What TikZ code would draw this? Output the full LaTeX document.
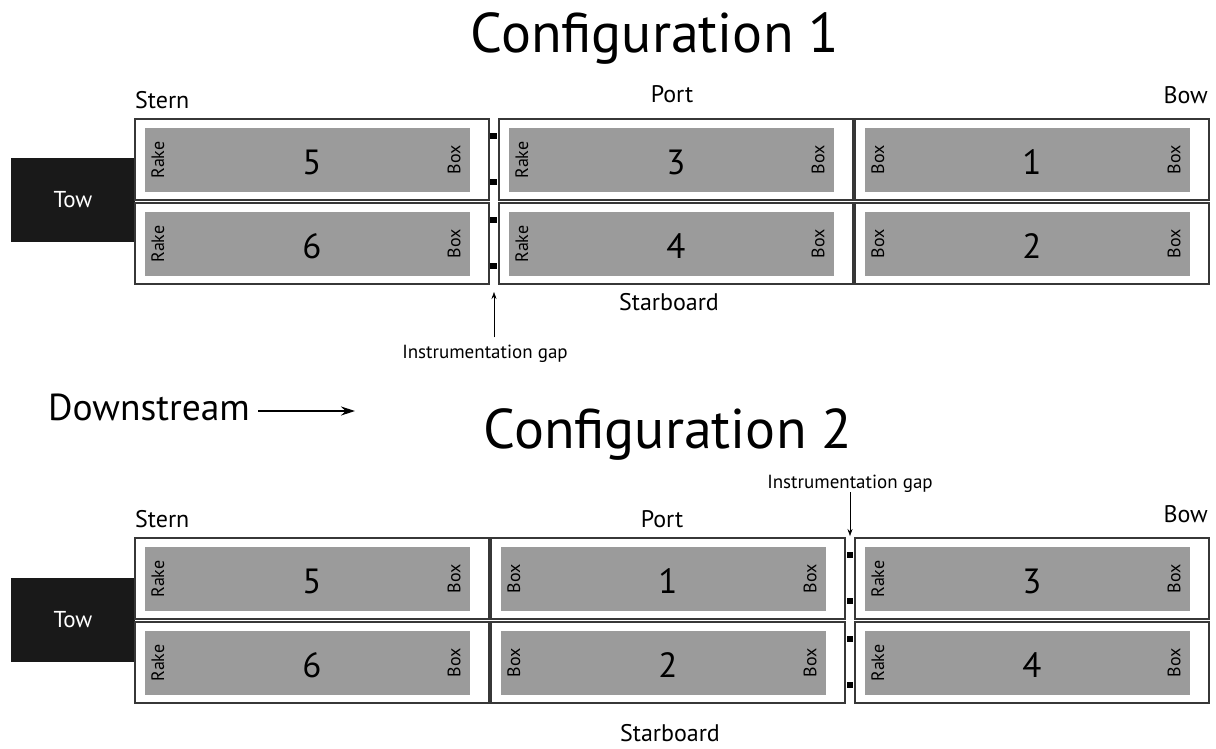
\documentclass[tikz,border=0pt]{standalone}
\usepackage{fontspec}
\setmainfont{PT Sans}
\usetikzlibrary{arrows.meta}
\definecolor{deckgray}{RGB}{155,155,155}
\definecolor{hullline}{RGB}{55,55,55}
\tikzset{
  barge/.style={draw=hullline, line width=1.2pt, fill=white,
    minimum width=354pt, minimum height=81pt, inner sep=0pt},
  deck/.style={fill=deckgray, minimum width=325pt, minimum height=64pt, inner sep=0pt},
  bargenum/.style={font=\fontsize{35}{37}\selectfont, inner sep=0pt},
  endlabel/.style={rotate=90, font=\fontsize{18}{19}\selectfont, inner sep=0pt},
  towboat/.style={fill=black!90, text=white, minimum width=124pt, minimum height=84pt,
    inner sep=0pt, font=\fontsize{23}{25}\selectfont},
  sensor/.style={fill=black, minimum size=6.5pt, inner sep=0pt},
  heading/.style={font=\fontsize{56}{58}\selectfont, inner sep=0pt},
  side/.style={font=\fontsize{24}{26}\selectfont, inner sep=0pt},
  note/.style={font=\fontsize{19}{21}\selectfont, inner sep=0pt},
}
\begin{document}
\begin{tikzpicture}[x=1pt, y=-1pt]
  \useasboundingbox (0,0) rectangle (1216,748);
  % tow boats
  \node[towboat] (tow1) at (73,200) {Tow};
  \node[towboat] (tow2) at (73,619.5) {Tow};
  % barges: name/x/y/number/left end/right end
  \foreach \nm/\cx/\cy/\num/\lend/\rend in {
      c1-5/312/159.5/5/Rake/Box, c1-6/312/243.5/6/Rake/Box,
      c1-3/676/159.5/3/Rake/Box, c1-4/676/243.5/4/Rake/Box,
      c1-1/1032/159.5/1/Box/Box, c1-2/1032/243.5/2/Box/Box,
      c2-5/312/578.5/5/Rake/Box, c2-6/312/662.5/6/Rake/Box,
      c2-1/668/578.5/1/Box/Box, c2-2/668/662.5/2/Box/Box,
      c2-3/1032/578.5/3/Rake/Box, c2-4/1032/662.5/4/Rake/Box}{
    \node[barge] (\nm) at (\cx,\cy) {};
    \node[deck] (\nm-d) at ([xshift=-4.5pt,yshift=-0.5pt]\nm.center) {};
    \node[bargenum] (\nm-n) at ([yshift=-3pt]\nm.center) {\num};
    \node[endlabel] (\nm-l) at ([xshift=13pt]\nm-d.west) {\lend};
    \node[endlabel] (\nm-r) at ([xshift=-16pt]\nm-d.east) {\rend};
  }
  % instrumentation
  \foreach \y [count=\i] in {136,182,220,266}
    \node[sensor] (s1-\i) at (493.5,\y) {};
  \foreach \y [count=\i] in {555,601,639,685}
    \node[sensor] (s2-\i) at (850,\y) {};
  % labels
  \node[heading, anchor=base] (conf1) at (655,52) {Configuration 1};
  \node[heading, anchor=base] (conf2) at (668,448) {Configuration 2};
  \node[side, anchor=base west] (stern1) at (135,108) {Stern};
  \node[side, anchor=base] (port1) at (672,102) {Port};
  \node[side, anchor=base east] (bow1) at (1208,103) {Bow};
  \node[side, anchor=base] (star1) at (669,310) {Starboard};
  \node[side, anchor=base west] (stern2) at (135,527) {Stern};
  \node[side, anchor=base] (port2) at (662,527) {Port};
  \node[side, anchor=base east] (bow2) at (1208,522) {Bow};
  \node[side, anchor=base] (star2) at (670,741) {Starboard};
  % flow direction
  \node[font=\fontsize{37.5}{39}\selectfont, anchor=base west, inner sep=0pt] (down) at (48,420) {Downstream};
  \coordinate (downtip) at (355,411);
  \draw[-{Stealth[length=14pt,width=9pt]}, line width=1.2pt]
    ([xshift=8pt]down.east |- downtip) -- (downtip);
  % gaps
  \node[note, anchor=base] (gap1) at (485,358) {Instrumentation gap};
  \coordinate (gap1tip) at (494,292);
  \draw[-{Stealth[length=7pt,width=5pt]}, line width=0.6pt]
    ([yshift=7pt]gap1.north -| gap1tip) -- (gap1tip);
  \node[note, anchor=base] (gap2) at (850,488) {Instrumentation gap};
  \coordinate (gap2tip) at (850,536);
  \draw[-{Stealth[length=7pt,width=5pt]}, line width=0.6pt]
    (gap2.south -| gap2tip) -- (gap2tip);
\end{tikzpicture}
\end{document}
